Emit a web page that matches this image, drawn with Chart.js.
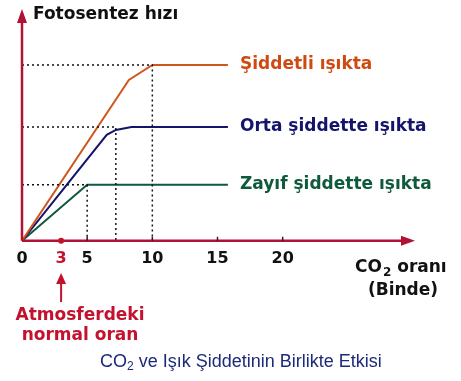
<!DOCTYPE html>
<html>
<head>
<meta charset="utf-8">
<script src="https://cdn.jsdelivr.net/npm/chart.js@4"></script>
<style>
html,body{margin:0;padding:0;background:#fff;}
#wrap{width:461px;height:381px;position:relative;}
</style>
</head>
<body>
<div id="wrap"><canvas id="c" width="461" height="381"></canvas></div>
<script>
// ---- data ----
const xTicks = [0, 3, 5, 10, 15, 20];
const strongX = [0, 8.2, 10, 15.8];
const strongY = [0, 16.1, 17.6, 17.6];
const mediumX = [0, 6.5, 7.2, 8.4, 15.8];
const mediumY = [0, 10.6, 11.1, 11.4, 11.4];
const weakX = [0, 5, 15.8];
const weakY = [0, 5.6, 5.6];
const seriesNames = ['Şiddetli ışıkta', 'Orta şiddette ışıkta', 'Zayıf şiddette ışıkta'];
const saturationX = [10, 7.2, 5];
const saturationY = [17.6, 11.4, 5.6];

const AXIS = '#b01236';
const RED = '#c4122e';
const colors = ['#d2561c', '#14146a', '#0f5a3c'];
const textColors = ['#cf4a12', '#14146a', '#0f5a3c'];

const pts = (xs, ys) => xs.map((x, i) => ({x: x, y: ys[i]}));
const lineDs = (xs, ys, c) => ({data: pts(xs, ys), borderColor: c, borderWidth: 2, pointRadius: 0, showLine: true, tension: 0, fill: false});
const guideDs = (i) => ({
  data: [{x: 0, y: saturationY[i]}, {x: saturationX[i], y: saturationY[i]}, {x: saturationX[i], y: 0}],
  borderColor: '#111', borderWidth: 1.5, borderDash: [2, 3], pointRadius: 0, showLine: true, fill: false
});

const F = '"DejaVu Sans", sans-serif';
const FN = '"Liberation Sans", Arial, sans-serif';

const deco = {
  id: 'deco',
  afterDatasetsDraw(chart) {
    const ctx = chart.ctx, xs = chart.scales.x, ys = chart.scales.y;
    const x0 = xs.getPixelForValue(0), y0 = ys.getPixelForValue(0);
    const top = chart.chartArea.top, right = chart.chartArea.right;
    ctx.save();
    ctx.strokeStyle = AXIS; ctx.fillStyle = AXIS; ctx.lineWidth = 2.5;
    // y axis
    ctx.beginPath(); ctx.moveTo(x0, y0); ctx.lineTo(x0, top + 10); ctx.stroke();
    ctx.beginPath(); ctx.moveTo(x0, top - 2); ctx.lineTo(x0 - 5, top + 12); ctx.lineTo(x0 + 5, top + 12); ctx.closePath(); ctx.fill();
    // x axis
    ctx.beginPath(); ctx.moveTo(x0, y0); ctx.lineTo(right - 10, y0); ctx.stroke();
    ctx.beginPath(); ctx.moveTo(right + 2, y0); ctx.lineTo(right - 12, y0 - 5); ctx.lineTo(right - 12, y0 + 5); ctx.closePath(); ctx.fill();
    // small tick marks
    ctx.strokeStyle = '#222'; ctx.lineWidth = 1.5;
    [5, 10, 15, 20].forEach(v => {
      const px = xs.getPixelForValue(v);
      ctx.beginPath(); ctx.moveTo(px, y0 - 4); ctx.lineTo(px, y0); ctx.stroke();
    });
    // red dot at 3
    ctx.fillStyle = RED;
    ctx.beginPath(); ctx.arc(xs.getPixelForValue(3), y0, 3, 0, Math.PI * 2); ctx.fill();
    // arrow from label "3" to text
    const x3 = xs.getPixelForValue(3);
    ctx.strokeStyle = RED; ctx.lineWidth = 2;
    ctx.beginPath(); ctx.moveTo(x3, 302); ctx.lineTo(x3, 281); ctx.stroke();
    ctx.beginPath(); ctx.moveTo(x3, 273); ctx.lineTo(x3 - 5, 284); ctx.lineTo(x3 + 5, 284); ctx.closePath(); ctx.fill();

    // texts
    ctx.textBaseline = 'middle';
    ctx.textAlign = 'left';
    ctx.fillStyle = '#111';
    ctx.font = 'bold 17px ' + F;
    ctx.fillText('Fotosentez hızı', 33, 15);

    ctx.font = 'bold 17px ' + F;
    ctx.fillStyle = RED;
    ctx.textAlign = 'center';
    ctx.fillText('Atmosferdeki', 80, 316);
    ctx.fillText('normal oran', 80, 336);

    ctx.fillStyle = '#111';
    ctx.textAlign = 'left';
    ctx.font = 'bold 17px ' + F;
    ctx.fillText('CO', 355, 268);
    const wco = ctx.measureText('CO').width;
    ctx.font = 'bold 12px ' + F;
    ctx.fillText('2', 355 + wco + 1, 273);
    const w2 = ctx.measureText('2').width;
    ctx.font = 'bold 17px ' + F;
    ctx.fillText(' oranı', 355 + wco + 1 + w2, 268);
    ctx.textAlign = 'center';
    ctx.fillText('(Binde)', 403, 291);

    // series labels
    ctx.textAlign = 'left';
    ctx.font = 'bold 17px ' + F;
    seriesNames.forEach((n, i) => {
      ctx.fillStyle = textColors[i];
      ctx.fillText(n, 240, ys.getPixelForValue(saturationY[i]));
    });

    // caption
    ctx.fillStyle = '#1c2a78';
    ctx.font = 'normal 18px ' + FN;
    const cx = 100, cy = 362;
    ctx.fillText('CO', cx, cy);
    const c1 = ctx.measureText('CO').width;
    ctx.font = 'normal 12px ' + FN;
    ctx.fillText('2', cx + c1, cy + 5);
    const c2 = ctx.measureText('2').width;
    ctx.font = 'normal 18px ' + FN;
    ctx.fillText(' ve Işık Şiddetinin Birlikte Etkisi', cx + c1 + c2, cy);
    ctx.restore();
  }
};

new Chart(document.getElementById('c'), {
  type: 'scatter',
  data: {
    datasets: [
      guideDs(0), guideDs(1), guideDs(2),
      lineDs(strongX, strongY, colors[0]),
      lineDs(mediumX, mediumY, colors[1]),
      lineDs(weakX, weakY, colors[2])
    ]
  },
  options: {
    responsive: false,
    animation: false,
    devicePixelRatio: 1,
    layout: {padding: {left: 22, right: 48, top: 11, bottom: 105}},
    scales: {
      x: {
        type: 'linear', min: 0, max: 30,
        grid: {display: false, drawTicks: false},
        border: {display: false},
        afterBuildTicks: s => { s.ticks = xTicks.map(v => ({value: v})); },
        ticks: {
          padding: 8,
          autoSkip: false,
          maxRotation: 0,
          font: {family: F, size: 16, weight: 'bold'},
          color: c => (c.tick && c.tick.value === 3) ? RED : '#111',
          callback: v => String(v)
        }
      },
      y: {
        type: 'linear', min: 0, max: 23,
        display: false
      }
    },
    plugins: {
      legend: {display: false},
      tooltip: {enabled: false},
      title: {display: false}
    }
  },
  plugins: [deco]
});
</script>
</body>
</html>
